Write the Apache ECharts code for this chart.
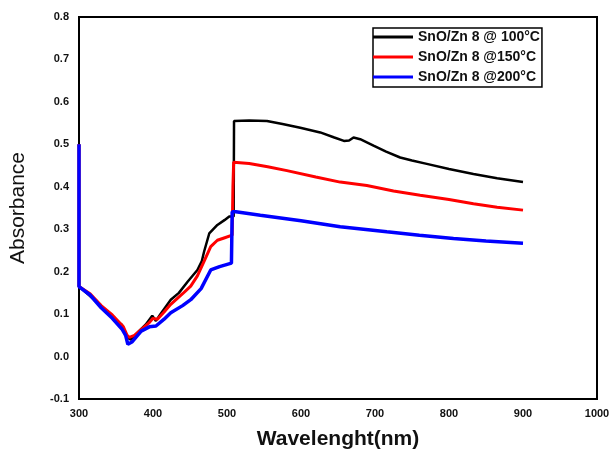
<!DOCTYPE html>
<html>
<head>
<meta charset="utf-8">
<script src="https://cdn.jsdelivr.net/npm/echarts@6/dist/echarts.min.js"></script>
<style>
html,body{margin:0;padding:0;background:#fff;}
#chart{width:614px;height:455px;}
</style>
</head>
<body>
<div id="chart"></div>
<script>
const seriesNames = ['SnO/Zn 8 @ 100°C', 'SnO/Zn 8 @150°C', 'SnO/Zn 8 @200°C'];
const seriesColors = ['#000000', '#ff0000', '#0000ff'];
const xTicks = [300, 400, 500, 600, 700, 800, 900, 1000];
const yTicks = [-0.1, 0.0, 0.1, 0.2, 0.3, 0.4, 0.5, 0.6, 0.7, 0.8];

const black100 = [
  [300,0.5],[300,0.165],[310,0.15],[320,0.135],[330,0.118],[340,0.1],[350,0.085],[358,0.075],
  [365,0.045],[370,0.04],[380,0.058],[390,0.075],[399,0.096],[404,0.084],[410,0.1],[424,0.134],
  [435,0.15],[447,0.177],[460,0.204],[466,0.225],[469,0.247],[476,0.29],[487,0.31],[497,0.322],
  [503,0.33],[509,0.33],[509.5,0.555],[530,0.556],[554,0.555],[575,0.548],[599,0.539],[626,0.528],
  [645,0.516],[658,0.508],[665,0.509],[671,0.516],[680,0.512],[698,0.497],[715,0.483],[734,0.469],
  [750,0.462],[770,0.454],[800,0.442],[833,0.43],[865,0.42],[900,0.411]
];
const red150 = [
  [300,0.5],[300,0.165],[315,0.148],[330,0.12],[345,0.098],[360,0.07],[365,0.05],[368,0.045],
  [375,0.05],[385,0.065],[395,0.08],[400,0.09],[406,0.088],[415,0.105],[424,0.123],[440,0.148],
  [451,0.166],[460,0.19],[469,0.224],[478,0.259],[487,0.274],[497,0.28],[507,0.286],[508,0.4],
  [509,0.458],[530,0.455],[555,0.447],[581,0.438],[620,0.423],[653,0.411],[689,0.403],[725,0.39],
  [761,0.38],[800,0.37],[833,0.36],[865,0.352],[900,0.345]
];
const blue200 = [
  [300,0.5],[300,0.165],[315,0.145],[330,0.115],[345,0.09],[358,0.065],[363,0.05],[366,0.029],
  [372,0.035],[384,0.06],[395,0.07],[404,0.072],[415,0.088],[424,0.103],[440,0.12],[451,0.134],
  [465,0.16],[478,0.204],[490,0.212],[506,0.22],[507,0.341],[512,0.341],[545,0.333],[600,0.32],
  [653,0.306],[716,0.294],[760,0.286],[806,0.278],[850,0.272],[900,0.267]
];

const allData = [black100, red150, blue200];
const widths = [2.5, 3, 3.5];
const FONT = '"Liberation Sans", Arial, sans-serif';

const chart = echarts.init(document.getElementById('chart'), null, {renderer: 'canvas'});
chart.setOption({
  animation: false,
  backgroundColor: '#fff',
  grid: {
    left: 78, right: 17, top: 17, bottom: 53,
    show: true, borderColor: '#000', borderWidth: 2, backgroundColor: 'transparent'
  },
  legend: {
    orient: 'vertical',
    left: 373, top: 28,
    data: seriesNames,
    icon: 'rect',
    itemWidth: 40, itemHeight: 3,
    itemGap: 6,
    padding: [2, 2, 3, 0],
    borderColor: '#000', borderWidth: 1.5,
    backgroundColor: '#fff',
    textStyle: {fontFamily: FONT, fontSize: 14, fontWeight: 'bold', color: '#111', lineHeight: 14}
  },
  xAxis: {
    type: 'value',
    min: xTicks[0], max: xTicks[xTicks.length - 1], interval: 100,
    name: 'Wavelenght(nm)',
    nameLocation: 'middle', nameGap: 30,
    nameTextStyle: {fontFamily: FONT, fontSize: 21, fontWeight: 'bold', color: '#111'},
    axisLine: {show: true, onZero: false, lineStyle: {color: '#000', width: 2}},
    axisTick: {show: false},
    splitLine: {show: false},
    axisLabel: {fontFamily: FONT, fontSize: 11, fontWeight: 'bold', color: '#111', margin: 9,
      formatter: v => String(v)}
  },
  yAxis: {
    type: 'value',
    min: yTicks[0], max: yTicks[yTicks.length - 1], interval: 0.1,
    name: 'Absorbance',
    nameLocation: 'middle', nameGap: 50, nameRotate: 90,
    nameTextStyle: {fontFamily: FONT, fontSize: 21, color: '#111', padding: [0, 0, 0, 0]},
    axisLine: {show: true, onZero: false, lineStyle: {color: '#000', width: 2}},
    axisTick: {show: false},
    splitLine: {show: false},
    axisLabel: {fontFamily: FONT, fontSize: 11, fontWeight: 'bold', color: '#111', margin: 10,
      formatter: v => v.toFixed(1)}
  },
  series: seriesNames.map((n, i) => ({
    name: n,
    type: 'line',
    data: allData[i],
    symbol: 'none',
    color: seriesColors[i],
    lineStyle: {color: seriesColors[i], width: widths[i]},
    z: 2 + i
  }))
});
</script>
</body>
</html>
